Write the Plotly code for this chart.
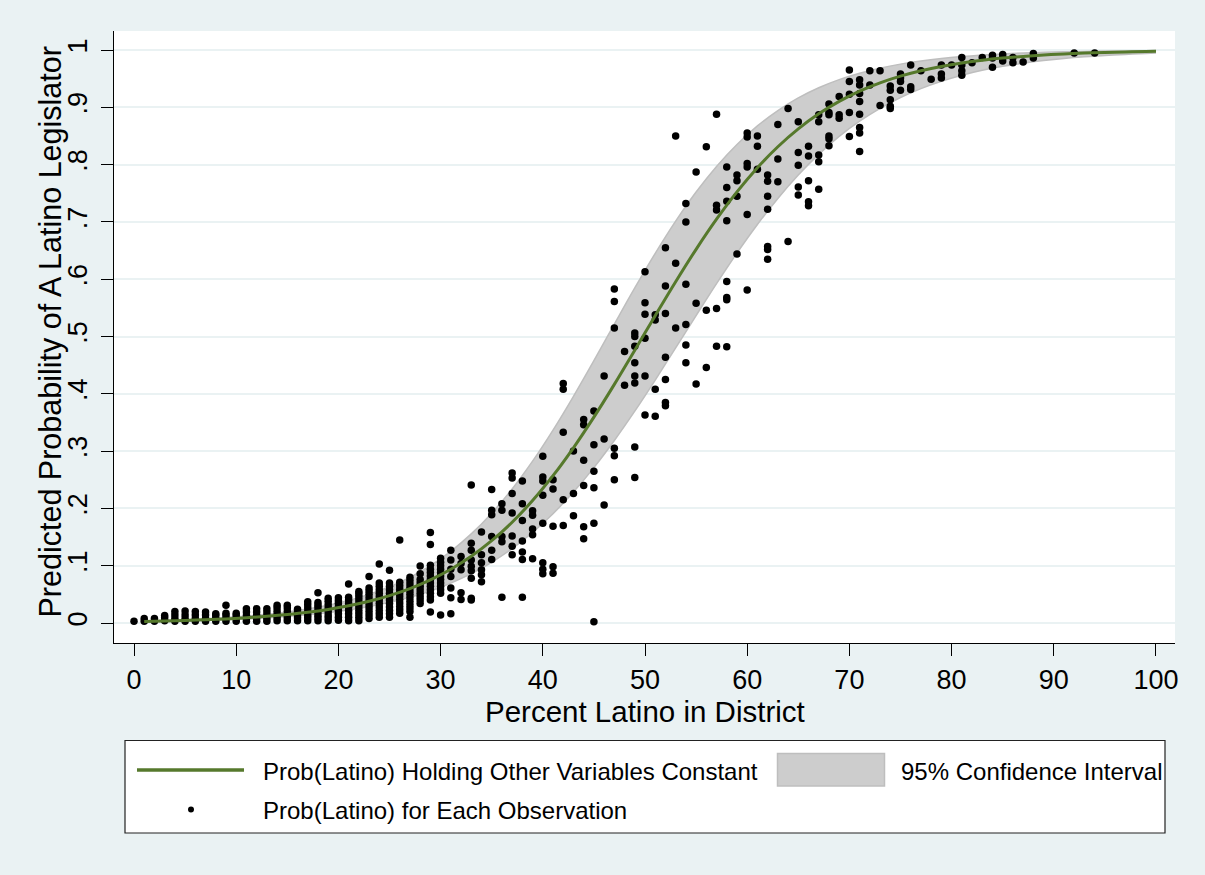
import plotly.graph_objects as go

# ---------------- data ----------------
# fitted curve (probability holding other variables constant)
curve_pct = [1, 3, 5, 7, 9, 11, 13, 15, 17, 19, 21, 23, 25, 27, 29, 31, 33, 35, 37, 39,
             41, 43, 45, 47, 49, 51, 53, 55, 57, 59, 61, 63, 65, 67, 69, 71, 73, 75, 77, 79,
             81, 83, 85, 87, 89, 91, 93, 95, 97, 99, 100]
curve_prob = [0.0028, 0.0035, 0.0045, 0.0057, 0.0072, 0.0092, 0.0117, 0.0148, 0.0187, 0.0237,
              0.0300, 0.0379, 0.0478, 0.0600, 0.0752, 0.0938, 0.1164, 0.1436, 0.1759, 0.2137,
              0.2571, 0.3058, 0.3593, 0.4165, 0.4761, 0.5364, 0.5956, 0.6522, 0.7047, 0.7524,
              0.7946, 0.8312, 0.8624, 0.8886, 0.9104, 0.9283, 0.9428, 0.9545, 0.9639, 0.9714,
              0.9774, 0.9822, 0.9859, 0.9889, 0.9913, 0.9931, 0.9946, 0.9957, 0.9967, 0.9974,
              0.9977]
ci_low = [0.0021, 0.0027, 0.0034, 0.0044, 0.0056, 0.0071, 0.0090, 0.0113, 0.0143, 0.0181,
          0.0228, 0.0287, 0.0360, 0.0449, 0.0560, 0.0696, 0.0861, 0.1060, 0.1298, 0.1580,
          0.1908, 0.2286, 0.2712, 0.3185, 0.3697, 0.4240, 0.4801, 0.5366, 0.5923, 0.6456,
          0.6954, 0.7410, 0.7819, 0.8179, 0.8492, 0.8758, 0.8983, 0.9171, 0.9327, 0.9455,
          0.9560, 0.9646, 0.9715, 0.9771, 0.9816, 0.9853, 0.9882, 0.9905, 0.9924, 0.9939,
          0.9946]
ci_high = [0.0036, 0.0046, 0.0058, 0.0074, 0.0094, 0.0119, 0.0151, 0.0192, 0.0245, 0.0311,
           0.0394, 0.0500, 0.0632, 0.0797, 0.1002, 0.1252, 0.1555, 0.1917, 0.2340, 0.2825,
           0.3367, 0.3957, 0.4579, 0.5216, 0.5847, 0.6452, 0.7014, 0.7522, 0.7968, 0.8352,
           0.8676, 0.8944, 0.9164, 0.9341, 0.9483, 0.9595, 0.9684, 0.9754, 0.9809, 0.9852,
           0.9885, 0.9911, 0.9931, 0.9947, 0.9959, 0.9968, 0.9975, 0.9981, 0.9985, 0.9989,
           0.9990]

# observations: percent Latino (x) and predicted probabilities at that x
obs_pct = list(range(0, 89)) + [92, 94]
obs_prob = [
    [0.003],
    [0.003, 0.008],
    [0.003, 0.008],
    [0.004, 0.009, 0.013],
    [0.003, 0.008, 0.014, 0.020],
    [0.003, 0.008, 0.014, 0.021],
    [0.003, 0.008, 0.014, 0.020],
    [0.003, 0.008, 0.014, 0.019],
    [0.003, 0.008, 0.013, 0.016],
    [0.003, 0.008, 0.013, 0.017, 0.031],
    [0.003, 0.008, 0.013, 0.017],
    [0.003, 0.008, 0.013, 0.019, 0.025],
    [0.003, 0.008, 0.013, 0.019, 0.025],
    [0.003, 0.008, 0.013, 0.019, 0.025],
    [0.004, 0.009, 0.014, 0.020, 0.026, 0.031],
    [0.004, 0.009, 0.014, 0.020, 0.026, 0.031],
    [0.004, 0.009, 0.014, 0.019, 0.024],
    [0.004, 0.009, 0.014, 0.020, 0.026, 0.032, 0.037],
    [0.004, 0.009, 0.014, 0.020, 0.026, 0.031, 0.036, 0.053],
    [0.004, 0.009, 0.014, 0.020, 0.026, 0.032, 0.038, 0.043],
    [0.005, 0.010, 0.016, 0.022, 0.028, 0.034, 0.039, 0.044],
    [0.004, 0.010, 0.016, 0.022, 0.028, 0.034, 0.040, 0.045, 0.068],
    [0.004, 0.010, 0.016, 0.022, 0.028, 0.034, 0.040, 0.046, 0.051, 0.055],
    [0.008, 0.014, 0.020, 0.026, 0.032, 0.038, 0.044, 0.050, 0.056, 0.061, 0.081],
    [0.010, 0.016, 0.022, 0.028, 0.034, 0.040, 0.046, 0.052, 0.058, 0.064, 0.070, 0.103],
    [0.010, 0.016, 0.022, 0.028, 0.034, 0.040, 0.046, 0.052, 0.058, 0.064, 0.070, 0.092],
    [0.017, 0.023, 0.029, 0.035, 0.041, 0.047, 0.053, 0.059, 0.065, 0.071, 0.145],
    [0.010, 0.020, 0.026, 0.032, 0.038, 0.044, 0.050, 0.056, 0.062, 0.068, 0.074, 0.080],
    [0.034, 0.040, 0.046, 0.052, 0.058, 0.064, 0.070, 0.076, 0.086, 0.0995],
    [0.019, 0.040, 0.046, 0.052, 0.058, 0.064, 0.070, 0.076, 0.082, 0.088, 0.094, 0.101, 0.137, 0.158],
    [0.014, 0.052, 0.058, 0.064, 0.070, 0.076, 0.082, 0.088, 0.094, 0.100, 0.106, 0.113],
    [0.016, 0.044, 0.061, 0.081, 0.094, 0.110, 0.127],
    [0.041, 0.053, 0.093, 0.104, 0.116],
    [0.040, 0.043, 0.078, 0.091, 0.099, 0.110, 0.127, 0.139, 0.241],
    [0.072, 0.084, 0.093, 0.105, 0.119, 0.159],
    [0.111, 0.127, 0.151, 0.189, 0.197, 0.233],
    [0.045, 0.142, 0.151, 0.197, 0.208],
    [0.119, 0.134, 0.152, 0.192, 0.226, 0.253, 0.262],
    [0.045, 0.111, 0.124, 0.143, 0.179, 0.208, 0.248],
    [0.112, 0.154, 0.164, 0.188, 0.196],
    [0.086, 0.094, 0.105, 0.174, 0.223, 0.248, 0.255, 0.291],
    [0.087, 0.098, 0.169, 0.234, 0.250],
    [0.170, 0.215, 0.333, 0.408, 0.418],
    [0.187, 0.226, 0.300],
    [0.147, 0.168, 0.240, 0.284, 0.346, 0.355],
    [0.002, 0.174, 0.236, 0.265, 0.311, 0.370],
    [0.206, 0.321, 0.431],
    [0.250, 0.292, 0.305, 0.515, 0.561, 0.583],
    [0.415, 0.474],
    [0.254, 0.307, 0.419, 0.431, 0.454, 0.483, 0.500, 0.506],
    [0.363, 0.431, 0.497, 0.539, 0.559, 0.613],
    [0.361, 0.408, 0.529, 0.538],
    [0.379, 0.385, 0.425, 0.464, 0.540, 0.588, 0.655],
    [0.515, 0.628, 0.850],
    [0.454, 0.485, 0.521, 0.591, 0.700, 0.732],
    [0.417, 0.558, 0.787],
    [0.446, 0.546, 0.831],
    [0.483, 0.549, 0.721, 0.729, 0.888],
    [0.482, 0.564, 0.568, 0.596, 0.702, 0.736, 0.760, 0.796],
    [0.644, 0.745, 0.772, 0.782],
    [0.581, 0.713, 0.796, 0.802, 0.848, 0.855],
    [0.792, 0.832, 0.850],
    [0.635, 0.652, 0.657, 0.722, 0.745, 0.771, 0.782],
    [0.770, 0.810, 0.870],
    [0.666, 0.898],
    [0.747, 0.761, 0.799, 0.821, 0.875],
    [0.728, 0.735, 0.772, 0.815, 0.832],
    [0.757, 0.805, 0.817, 0.875, 0.887],
    [0.833, 0.845, 0.850, 0.887, 0.891, 0.906],
    [0.881, 0.887, 0.919],
    [0.849, 0.891, 0.923, 0.945, 0.965],
    [0.823, 0.855, 0.865, 0.888, 0.910, 0.924, 0.939, 0.948],
    [0.939, 0.964],
    [0.903, 0.964],
    [0.898, 0.902, 0.913, 0.930, 0.937],
    [0.930, 0.945, 0.951, 0.958],
    [0.931, 0.936, 0.974],
    [0.964],
    [0.949],
    [0.951, 0.958, 0.974],
    [0.974],
    [0.956, 0.964, 0.974, 0.987],
    [0.978],
    [0.987],
    [0.970, 0.986, 0.991],
    [0.981, 0.987, 0.992],
    [0.978, 0.987],
    [0.979],
    [0.986, 0.994],
    [0.995],
    [0.995],
]

x_ticks = [0, 10, 20, 30, 40, 50, 60, 70, 80, 90, 100]
y_ticks = [0, 0.1, 0.2, 0.3, 0.4, 0.5, 0.6, 0.7, 0.8, 0.9, 1]
y_tick_text = ["0", ".1", ".2", ".3", ".4", ".5", ".6", ".7", ".8", ".9", "1"]

x_title = "Percent Latino in District"
y_title = "Predicted Probability of A Latino Legislator"
leg_line = "Prob(Latino) Holding Other Variables Constant"
leg_ci = "95% Confidence Interval"
leg_obs = "Prob(Latino) for Each Observation"

# ---------------- styling ----------------
BG = "#EAF2F3"
GREEN = "#56792C"
BAND = "#CDCDCD"
BAND_EDGE = "#BEBEBE"
FONT = "Liberation Sans, Arial, sans-serif"

obs_x, obs_y = [], []
for pct, vals in zip(obs_pct, obs_prob):
    for v in vals:
        obs_x.append(pct)
        obs_y.append(v)

fig = go.Figure()
fig.add_trace(go.Scatter(x=curve_pct, y=ci_low, mode="lines",
                         line=dict(color=BAND_EDGE, width=1.5, shape="spline"),
                         showlegend=False, hoverinfo="skip"))
fig.add_trace(go.Scatter(x=curve_pct, y=ci_high, mode="lines", fill="tonexty",
                         fillcolor=BAND,
                         line=dict(color=BAND_EDGE, width=1.5, shape="spline"),
                         showlegend=False, hoverinfo="skip"))
fig.add_trace(go.Scatter(x=obs_x, y=obs_y, mode="markers",
                         marker=dict(color="black", size=7.5, line=dict(width=0)),
                         showlegend=False))
fig.add_trace(go.Scatter(x=curve_pct, y=curve_prob, mode="lines",
                         line=dict(color=GREEN, width=3, shape="spline"),
                         showlegend=False))

L, R, T, B = 114, 30, 31, 232
W, H = 1205, 875
pw, ph = W - L - R, H - T - B


def px(xp):
    return (xp - L) / pw


def py(yp):
    return (H - B - yp) / ph


shapes = [
    # legend frame
    dict(type="rect", xref="paper", yref="paper", x0=px(125), x1=px(1165), y0=py(833), y1=py(740.5),
         line=dict(color="#222222", width=1.2), fillcolor="white", layer="above"),
    dict(type="line", xref="paper", yref="paper", x0=px(137), x1=px(244), y0=py(770), y1=py(770),
         line=dict(color=GREEN, width=3.5)),
    dict(type="rect", xref="paper", yref="paper", x0=px(777.5), x1=px(884.5), y0=py(786), y1=py(753.5),
         line=dict(color=BAND_EDGE, width=1.5), fillcolor=BAND),
    dict(type="circle", xref="paper", yref="paper", xsizemode="pixel", ysizemode="pixel",
         xanchor=px(191), yanchor=py(809.5), x0=-3, x1=3, y0=-3, y1=3,
         line=dict(color="black", width=0), fillcolor="black"),
]

annotations = [
    dict(text=x_title, xref="paper", yref="paper", x=px(645), y=py(711), xanchor="center",
         yanchor="middle", showarrow=False, font=dict(family=FONT, size=29.5, color="black")),
    dict(text=y_title, xref="paper", yref="paper", x=px(50), y=py(332.5), xanchor="center",
         yanchor="middle", textangle=-90, showarrow=False,
         font=dict(family=FONT, size=30.5, color="black")),
    dict(text=leg_line, xref="paper", yref="paper", x=px(261), y=py(771), xanchor="left",
         yanchor="middle", showarrow=False, font=dict(family=FONT, size=24, color="black")),
    dict(text=leg_ci, xref="paper", yref="paper", x=px(899), y=py(771), xanchor="left",
         yanchor="middle", showarrow=False, font=dict(family=FONT, size=24, color="black")),
    dict(text=leg_obs, xref="paper", yref="paper", x=px(261), y=py(810), xanchor="left",
         yanchor="middle", showarrow=False, font=dict(family=FONT, size=24, color="black")),
]

fig.update_layout(
    width=W, height=H,
    margin=dict(l=L, r=R, t=T, b=B, autoexpand=False),
    paper_bgcolor=BG, plot_bgcolor="white",
    font=dict(family=FONT, size=27, color="black"),
    showlegend=False,
    shapes=shapes,
    annotations=annotations,
    xaxis=dict(range=[-1.957, 101.86], tickvals=x_ticks, ticks="outside", ticklen=12,
               tickwidth=1.2, tickcolor="black", showline=True, linecolor="black",
               linewidth=1.2, showgrid=False, zeroline=False,
               tickfont=dict(family=FONT, size=27, color="black")),
    yaxis=dict(range=[-0.0349, 1.0332], tickvals=y_ticks, ticktext=y_tick_text,
               ticks="outside", ticklen=12, tickwidth=1.2, tickcolor="black",
               tickangle=-90, ticklabelstandoff=3, showline=True, linecolor="black",
               linewidth=1.2, showgrid=True, gridcolor=BG, gridwidth=1.5, zeroline=False,
               tickfont=dict(family=FONT, size=27, color="black")),
)

fig.write_html("out.html",
               config={"displayModeBar": False},
               post_script="document.body.style.margin='0';document.body.style.padding='0';")
